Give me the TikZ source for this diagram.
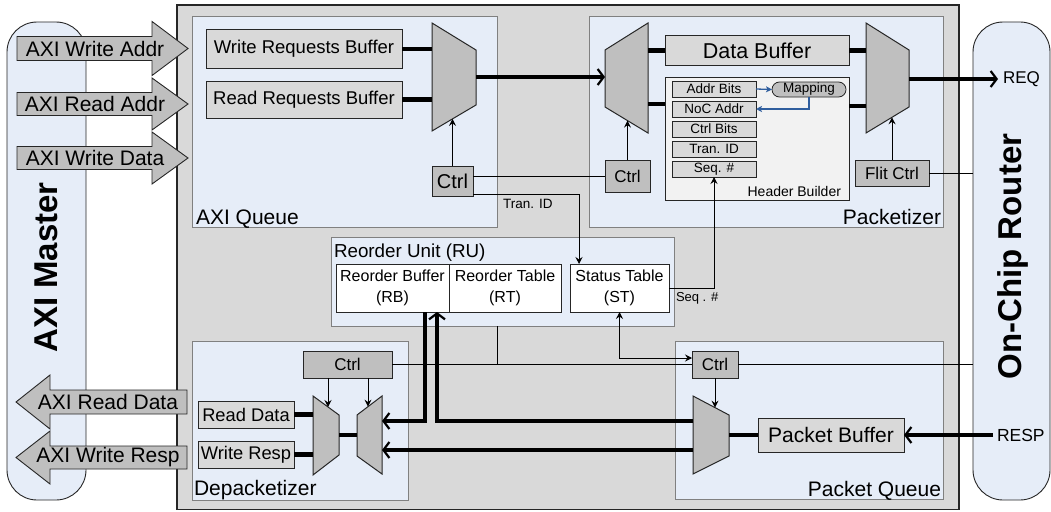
\documentclass[tikz,border=0pt]{standalone}
\usepackage{fontspec}
\setmainfont{Liberation Sans}
\usetikzlibrary{arrows.meta,calc}

\definecolor{chipgray}{HTML}{D9D9D9}
\definecolor{paleblue}{HTML}{E6EDF8}
\definecolor{bufgray}{HTML}{D9D9D9}
\definecolor{muxgray}{HTML}{BFBFBF}
\definecolor{hdrgray}{HTML}{F2F2F2}
\definecolor{rimgray}{HTML}{808080}
\definecolor{inkgray}{HTML}{262626}
\definecolor{mapblue}{HTML}{2F5E9E}

\newcommand{\pxfont}[2]{\fontsize{#1pt}{#2pt}\selectfont}

\begin{document}
\begin{tikzpicture}[x=1pt, y=-1pt,
  region/.style={draw=rimgray, fill=paleblue, line width=0.9pt, inner sep=0pt, outer sep=0pt, anchor=north west},
  endpoint/.style={draw=inkgray, fill=paleblue, line width=0.9pt, rounded corners=30pt, inner sep=0pt, outer sep=0pt, anchor=north west},
  blk/.style={draw=inkgray, line width=1pt, inner sep=0pt, outer sep=0pt, anchor=north west, align=center},
  wh/.style 2 args={minimum width=#1pt, minimum height=#2pt},
  buf/.style={blk, fill=bufgray},
  ctl/.style={blk, fill=muxgray, font=\pxfont{17}{17}},
  tbl/.style={blk, fill=white, font=\pxfont{16}{21}},
  fld/.style={blk, fill=bufgray, line width=0.8pt, font=\pxfont{13.5}{13.5}},
  mux/.style={draw=inkgray, fill=muxgray, line width=1pt, line join=miter},
  sig/.style={draw=black, line width=0.9pt},
  sigarrow/.style={sig, -{Stealth[length=7pt,width=7pt,inset=2.5pt]}},
  bidi/.style={sig, {Stealth[length=7pt,width=7pt,inset=2.5pt]}-{Stealth[length=7pt,width=7pt,inset=2.5pt]}},
  bus/.style={draw=black, line width=4.5pt, line join=miter},
  busarrow/.style={bus, -{Straight Barb[length=6pt,width=16pt,line width=2.2pt]}},
  maparrow/.style={draw=mapblue, line width=1.3pt, -{Stealth[length=6pt,width=6pt,inset=1.5pt]}},
  bigarrow/.style={draw=inkgray, fill=muxgray, line width=0.9pt, line join=miter},
  lbl/.style={inner sep=0pt, outer sep=0pt},
  ]
\useasboundingbox (0,0) rectangle (1051,511);

% ---- end points: AXI master and on-chip router ----
\node[endpoint, wh={79}{478}] (master) at (7,22) {};
\node[lbl, rotate=90, anchor=base, font=\bfseries\pxfont{33}{33}] (mastertxt) at (57,267.5) {AXI Master};
\node[endpoint, wh={77}{478}] (router) at (973,22) {};
\node[lbl, rotate=90, anchor=base, font=\bfseries\pxfont{33}{33}] (routertxt) at (1021,256.5) {On-Chip Router};

% ---- bridge body ----
\node[blk, fill=chipgray, line width=1.2pt, wh={782}{504.5}] (chip) at (177,5) {};

% ---- AXI channels ----
\draw[bigarrow] (17,36.5) -- (152,36.5) -- (152,21.5) -- (188,48.5) -- (152,75.5) -- (152,60.5) -- (17,60.5) -- cycle;
\node[lbl, font=\pxfont{21}{21}] (awaddr) at (95,48.5) {AXI Write Addr};
\draw[bigarrow] (17,92.5) -- (152,92.5) -- (152,78) -- (188,104) -- (152,130) -- (152,115.5) -- (17,115.5) -- cycle;
\node[lbl, font=\pxfont{21}{21}] (araddr) at (95,104) {AXI Read Addr};
\draw[bigarrow] (17,146.5) -- (152,146.5) -- (152,132) -- (188,158) -- (152,184) -- (152,169.5) -- (17,169.5) -- cycle;
\node[lbl, font=\pxfont{21}{21}] (wdata) at (95,158) {AXI Write Data};
\draw[bigarrow] (187,390) -- (50,390) -- (50,375) -- (16,402) -- (50,429) -- (50,414) -- (187,414) -- cycle;
\node[lbl, font=\pxfont{21}{21}] (rdatach) at (108,402) {AXI Read Data};
\draw[bigarrow] (187,446) -- (50,446) -- (50,431) -- (16,457.5) -- (50,484) -- (50,469) -- (187,469) -- cycle;
\node[lbl, font=\pxfont{21}{21}] (wrespch) at (108,457.5) {AXI Write Resp};

% ---- sub-blocks ----
\node[region, wh={305}{211.5}] (axiq) at (192,16) {};
\node[region, wh={354}{211.5}] (pktz) at (589,16) {};
\node[region, wh={343}{88.5}] (ru) at (331,237.5) {};
\node[region, wh={216}{159}] (depk) at (192,341) {};
\node[region, wh={268}{158.5}] (pq) at (675,341) {};

\node[lbl, anchor=base west, font=\pxfont{21}{21}] (axiqlbl) at (196,224) {AXI Queue};
\node[lbl, anchor=base east, font=\pxfont{21}{21}] (pktzlbl) at (941,224) {Packetizer};
\node[lbl, anchor=base west, font=\pxfont{18.8}{18.8}] (rulbl) at (334,257) {Reorder Unit (RU)};
\node[lbl, anchor=base west, font=\pxfont{21}{21}] (depklbl) at (194,495) {Depacketizer};
\node[lbl, anchor=base east, font=\pxfont{21}{21}] (pqlbl) at (941,496) {Packet Queue};

% ---- AXI queue ----
\node[buf, wh={196}{38}, font=\pxfont{18.5}{18.5}] (wrb) at (206,30) {Write Requests Buffer};
\node[buf, wh={196}{37}, font=\pxfont{18.5}{18.5}] (rrb) at (206,81) {Read Requests Buffer};
\draw[mux] (432,23) -- (476,50) -- (476,105) -- (432,131) -- cycle;
\coordinate (muxAin) at (432,77);
\coordinate (muxAout) at (476,77);
\coordinate (muxAsel) at (452.5,118.9);
\node[ctl, wh={41}{30}, font=\pxfont{20}{20}] (ctlA) at (432,166) {Ctrl};

% ---- packetizer ----
\draw[mux] (605,50) -- (648,23) -- (648,133) -- (605,107) -- cycle;
\coordinate (dmxPin) at (605,77);
\coordinate (dmxPout) at (648,77);
\coordinate (dmxPlow) at (648,104);
\coordinate (dmxPsel) at (627.5,120.6);
\node[ctl, wh={45}{32}] (ctlP) at (605,160) {Ctrl};
\node[buf, wh={184}{29}, font=\pxfont{21.5}{21.5}] (dbuf) at (665,36) {Data Buffer};
\node[blk, fill=hdrgray, wh={184}{123}] (hdr) at (665,77) {};
\node[lbl, anchor=base east, font=\pxfont{14}{14}] (hdrlbl) at (841,196) {Header Builder};
\node[fld, wh={84}{16}] (fAddr) at (672,81) {Addr Bits};
\node[fld, wh={84}{16}] (fNoc) at (672,101) {NoC Addr};
\node[fld, wh={84}{16}] (fCtrl) at (672,121) {Ctrl Bits};
\node[fld, wh={84}{16}] (fTran) at (672,141) {Tran. ID};
\node[fld, wh={84}{16}] (fSeq) at (672,161) {Seq. \#};
\node[blk, fill=muxgray, rounded corners=7.5pt, line width=0.8pt, wh={74}{15}, font=\pxfont{13.5}{13.5}] (mapping) at (772,82) {Mapping};
\draw[mux] (866,23) -- (909,50) -- (909,107) -- (866,133) -- cycle;
\coordinate (muxOin) at (866,77);
\coordinate (muxOlow) at (866,106);
\coordinate (muxOout) at (909,79);
\coordinate (muxOsel) at (892,117.3);
\node[ctl, wh={74}{26}] (flit) at (855,160) {Flit Ctrl};
\node[lbl, anchor=west, font=\pxfont{17}{17}] (req) at (1003,79) {REQ};

% ---- reorder unit ----
\node[tbl, wh={113}{48}] (rb) at (336,264) {Reorder Buffer\\(RB)};
\node[tbl, wh={112}{48}] (rt) at (449,264) {Reorder Table\\(RT)};
\node[tbl, wh={99}{48}] (st) at (570,264) {Status Table\\(ST)};

% ---- depacketizer ----
\node[ctl, wh={89}{27}] (depctl) at (303,351) {Ctrl};
\node[buf, wh={96}{27}, font=\pxfont{18.3}{18.3}] (rdata) at (198,401) {Read Data};
\node[buf, wh={96}{27}, font=\pxfont{18.3}{18.3}] (wresp) at (198,441) {Write Resp};
\draw[mux] (313,396) -- (339,415) -- (339,455) -- (313,475) -- cycle;
\draw[mux] (357,415) -- (382,396) -- (382,474) -- (357,456) -- cycle;
\coordinate (d1left) at (313,435);
\coordinate (d1out) at (339,435);
\coordinate (d2in) at (357,435);
\coordinate (d2right) at (382,435);
\coordinate (d1sel) at (328,407);
\coordinate (d2sel) at (368,406.6);

% ---- packet queue ----
\node[ctl, wh={46}{27}] (pqctl) at (692,351) {Ctrl};
\draw[mux] (693,396) -- (729,415) -- (729,456) -- (693,474) -- cycle;
\coordinate (mqup) at (693,421);
\coordinate (mqdown) at (693,450);
\coordinate (mqout) at (729,435);
\coordinate (mqsel) at (715,407.6);
\node[buf, wh={146}{34}, font=\pxfont{21}{21}] (pbuf) at (758,418) {Packet Buffer};
\node[lbl, anchor=west, font=\pxfont{17.5}{17.5}] (resp) at (997,435) {RESP};
\coordinate (rutap) at (497,364.5);
\coordinate (rbdown) at (382,421);

% ---- control signals ----
\draw[sigarrow] (ctlA.north) -- (muxAsel);
\draw[sig] (ctlA.east |- ctlP.west) -- (ctlP.west);
\draw[sigarrow] ([yshift=-13pt]ctlA.east) -| ([xshift=9pt]st.north west);
\node[lbl, anchor=west, font=\pxfont{13.5}{13.5}] (tranlbl) at (503,204) {Tran. ID};
\draw[sigarrow] (ctlP.north) -- (dmxPsel);
\draw[sigarrow] (flit.north) -- (muxOsel);
\draw[sig] (flit.east) -- (flit.east -| router.west);
\draw[maparrow] (fAddr.east) -- (mapping.west);
\draw[maparrow] (mapping.south) |- (fNoc.east);
\draw[sigarrow] (st.east) -| (fSeq.south);
\node[lbl, anchor=west, font=\pxfont{13}{13}] (seqlbl) at (676,298) {Seq . \#};
\draw[bidi] (st.south) |- ([yshift=6.5pt]pqctl.west);
\draw[sig] (depctl.east) -- (pqctl.west);
\draw[sig] (rutap |- ru.south) -- (rutap);
\draw[sig] (pqctl.east) -- (pqctl.east -| router.west);
\draw[sigarrow] (pqctl.south) -- (mqsel);
\draw[sigarrow] (depctl.south -| d1sel) -- (d1sel);
\draw[sigarrow] (depctl.south -| d2sel) -- (d2sel);

% ---- data paths ----
\draw[bus] (wrb.east) -- (wrb.east -| muxAin);
\draw[bus] (rrb.east) -- (rrb.east -| muxAin);
\draw[busarrow] (muxAout) -- (dmxPin);
\draw[bus] (dmxPout |- dbuf.west) -- (dbuf.west);
\draw[bus] (dmxPlow) -- (dmxPlow -| hdr.west);
\draw[bus] (dbuf.east) -- (dbuf.east -| muxOin);
\draw[bus] (muxOlow -| hdr.east) -- (muxOlow);
\draw[busarrow] (muxOout) -- ([xshift=-5pt]req.west);
\draw[bus] (rdata.east) -- (rdata.east -| d1left);
\draw[bus] (wresp.east) -- (wresp.east -| d1left);
\draw[bus] (d1out) -- (d2in);
\draw[busarrow] ([xshift=-24pt]rb.south east) |- (rbdown);
\draw[busarrow] (mqup) -| ([xshift=-12pt]rb.south east);
\draw[busarrow] (mqdown) -- (mqdown -| d2right);
\draw[bus] (mqout) -- (pbuf.west);
\draw[busarrow] ([xshift=-4pt]resp.west) -- (pbuf.east);
\end{tikzpicture}
\end{document}
